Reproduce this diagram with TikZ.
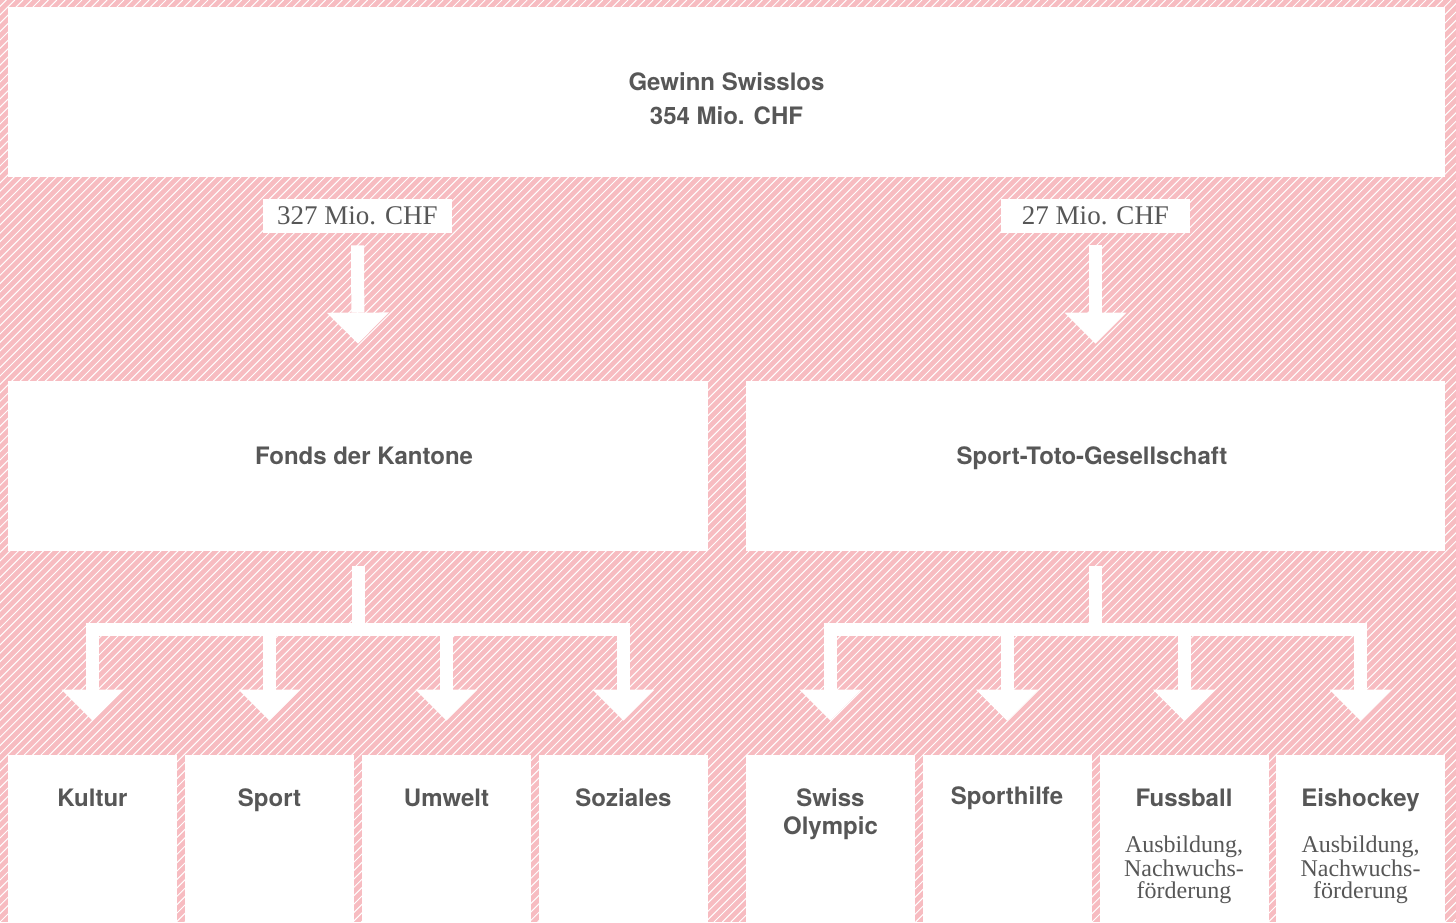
\documentclass[tikz,border=0pt]{standalone}
\usepackage{fontspec}
\setmainfont{TeX Gyre Heros}
\newfontfamily\bodyserif{Liberation Serif}
\usetikzlibrary{arrows.meta,calc}

\definecolor{hatchpink}{HTML}{F7BCC1}
\definecolor{textgray}{HTML}{575757}

\tikzset{
  stripe/.style={white, line width=0.5pt},
  panel/.style={fill=white, inner sep=0pt, minimum height=85pt},
  leaf/.style={fill=white, inner sep=0pt, minimum width=84.5pt, minimum height=83.5pt},
  caption/.style={font=\fontsize{12}{14}\selectfont\bfseries, text=textgray, align=center, inner sep=0pt},
  amountbox/.style={fill=white, inner sep=0pt, minimum width=94.5pt, minimum height=17pt,
    font=\bodyserif\fontsize{13.5}{16}\selectfont, text=textgray},
  subnote/.style={font=\bodyserif\fontsize{12}{10.8}\selectfont, text=textgray, align=center, inner sep=0pt},
  flowline/.style={white, line width=6.5pt},
  flowarrow/.style={white, line width=6.5pt, -{Triangle[width=31pt,length=15.5pt,line width=0pt]}}
}

\begin{document}
\begin{tikzpicture}[x=0.5pt, y=-0.5pt]

  \useasboundingbox (0,0) rectangle (1456,922);
  \fill[hatchpink] (0,0) rectangle (1456,922);
  \begin{scope}
    \clip (0,0) rectangle (1456,922);
    \foreach \i in {-110,...,174}
      \draw[stripe] (\i*8.4,922) -- ++(922,-922);
  \end{scope}

  % top
  \node[panel, minimum width=718.5pt] (gewinn) at (726.5,92) {};
  \node[caption, font=\fontsize{12}{17}\selectfont\bfseries] (gewinnT) at (726.5,99) {Gewinn Swisslos\\354 Mio. CHF};
  \node[amountbox] (betragL) at (357.5,216) {327 Mio. CHF};
  \node[amountbox] (betragR) at (1095.5,216) {27 Mio. CHF};

  % middle
  \node[panel, minimum width=350pt] (fonds) at (358,466) {};
  \node[panel, minimum width=349.5pt] (toto) at (1095.5,466) {};
  \node[caption, anchor=base] (fondsT) at (364,464) {Fonds der Kantone};
  \node[caption, anchor=base] (totoT) at (1092,464) {Sport-Toto-Gesellschaft};

  \draw[flowarrow] ([yshift=-6pt]betragL.south) -- ([yshift=18.5pt]fonds.north);
  \draw[flowarrow] ([yshift=-6pt]betragR.south) -- ([yshift=18.5pt]toto.north);

  % bottom
  \foreach \n/\x in {kultur/92.5, sport/269.5, umwelt/446.5, soziales/623.5,
                     olympic/830.5, hilfe/1007, fussball/1184, eishockey/1360.5}
    \node[leaf] (\n) at (\x,838.5) {};

  \node[caption, anchor=north] at ([yshift=-17pt]kultur.north) {Kultur};
  \node[caption, anchor=north] at ([yshift=-17pt]sport.north) {Sport};
  \node[caption, anchor=north] at ([yshift=-17pt]umwelt.north) {Umwelt};
  \node[caption, anchor=north] at ([yshift=-17pt]soziales.north) {Soziales};
  \node[caption, anchor=north] at ([yshift=-17pt]olympic.north) {Swiss\\Olympic};
  \node[caption, anchor=north] at ([yshift=-16pt]hilfe.north) {Sporthilfe};
  \node[caption, anchor=north] at ([yshift=-17pt]fussball.north) {Fussball};
  \node[caption, anchor=north] at ([yshift=-17pt]eishockey.north) {Eishockey};
  \node[subnote, anchor=north] at ([yshift=-40.5pt]fussball.north) {Ausbildung,\\Nachwuchs-\\förderung};
  \node[subnote, anchor=north] at ([yshift=-40.5pt]eishockey.north) {Ausbildung,\\Nachwuchs-\\förderung};

  % branches
  \coordinate (gabelL) at ([yshift=-39.25pt]fonds.south);
  \coordinate (gabelR) at ([yshift=-39.25pt]toto.south);
  \draw[flowline] ([yshift=-7.5pt]fonds.south) -- (gabelL);
  \draw[flowline] ([yshift=-7.5pt]toto.south) -- (gabelR);
  \draw[flowline, line cap=rect] (kultur.north |- gabelL) -- (soziales.north |- gabelL);
  \draw[flowline, line cap=rect] (olympic.north |- gabelR) -- (eishockey.north |- gabelR);
  \foreach \n in {kultur,sport,umwelt,soziales}
    \draw[flowarrow] (\n.north |- gabelL) -- ([yshift=17pt]\n.north);
  \foreach \n in {olympic,hilfe,fussball,eishockey}
    \draw[flowarrow] (\n.north |- gabelR) -- ([yshift=17pt]\n.north);

\end{tikzpicture}
\end{document}
